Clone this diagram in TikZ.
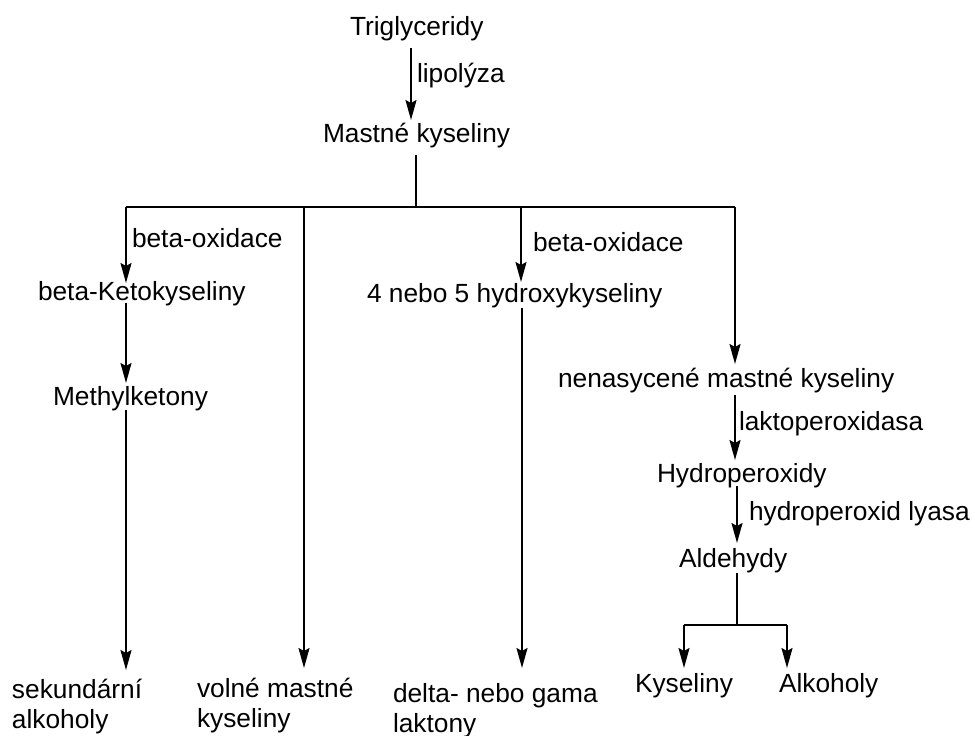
\documentclass[tikz,border=0pt]{standalone}
\usepackage{fontspec}
\setmainfont{Liberation Sans}
\usetikzlibrary{arrows.meta}
\tikzset{
  lbl/.style={anchor=base west, inner sep=0pt, outer sep=0pt, font=\fontsize{26.3}{30}\selectfont},
  ln/.style={line width=2pt},
  arr/.style={line width=2pt, -{Stealth[length=20pt,width=11pt,inset=3pt]}}
}
\newcommand{\twolines}[2]{\begin{tabular}[t]{@{}l@{}}#1\\#2\end{tabular}}
\begin{document}
\begin{tikzpicture}[x=1pt,y=-1pt]
\useasboundingbox (0,0) rectangle (975,736);
% text nodes
\node[lbl] (tri) at (350,35) {Triglyceridy};
\node[lbl] (lip) at (417,82) {lipolýza};
\node[lbl] (mk) at (323,142) {Mastné kyseliny};
\node[lbl] (bo1) at (132,247) {beta-oxidace};
\node[lbl] (bk) at (38,300) {beta-Ketokyseliny};
\node[lbl] (me) at (53,405) {Methylketony};
\node[lbl] (bo2) at (533,251) {beta-oxidace};
\node[lbl] (hk) at (367,302) {4 nebo 5 hydroxykyseliny};
\node[lbl] (nmk) at (558,387) {nenasycené mastné kyseliny};
\node[lbl] (lak) at (739,430) {laktoperoxidasa};
\node[lbl] (hyd) at (657,482) {Hydroperoxidy};
\node[lbl] (hl) at (749,520) {hydroperoxid lyasa};
\node[lbl] (ald) at (679,567) {Aldehydy};
\node[lbl] (kys) at (635,692) {Kyseliny};
\node[lbl] (alk) at (779,692) {Alkoholy};
\node[lbl] (sek) at (12,698) {\twolines{sekundární}{alkoholy}};
\node[lbl] (vol) at (197,697) {\twolines{volné mastné}{kyseliny}};
\node[lbl] (del) at (393,702) {\twolines{delta- nebo gama}{laktony}};
% coordinates
\coordinate (triB) at (411,48);
\coordinate (mkT) at (411,120);
\coordinate (mkB) at (416,155);
\coordinate (j0) at (416,207);
\coordinate (j1) at (126,207);
\coordinate (j2) at (304,207);
\coordinate (j3) at (521,207);
\coordinate (j4) at (735,207);
\coordinate (bkT) at (126,283);
\coordinate (bkB) at (126,303);
\coordinate (meT) at (126,383);
\coordinate (meB) at (126,410);
\coordinate (sekT) at (126,670);
\coordinate (volT) at (304,668);
\coordinate (hkT) at (521,282);
\coordinate (hkB) at (522,308);
\coordinate (delT) at (522,668);
\coordinate (nmkT) at (735,364);
\coordinate (nmkB) at (735,395);
\coordinate (hydT) at (735,460);
\coordinate (hydB) at (737,486);
\coordinate (aldT) at (737,543);
\coordinate (aldB) at (737,573);
\coordinate (j5) at (737,625);
\coordinate (j6) at (684,625);
\coordinate (j7) at (787,625);
\coordinate (kysT) at (684,668);
\coordinate (alkT) at (787,668);
% connectors
\draw[arr] (triB) -- (mkT);
\draw[ln] (mkB) -- (j0);
\draw[ln] (j1) -- (j4);
\draw[arr] (j1) -- (bkT);
\draw[arr] (bkB) -- (meT);
\draw[arr] (meB) -- (sekT);
\draw[arr] (j2) -- (volT);
\draw[arr] (j3) -- (hkT);
\draw[arr] (hkB) -- (delT);
\draw[arr] (j4) -- (nmkT);
\draw[arr] (nmkB) -- (hydT);
\draw[arr] (hydB) -- (aldT);
\draw[ln] (aldB) -- (j5);
\draw[ln] (j6) -- (j7);
\draw[arr] (j6) -- (kysT);
\draw[arr] (j7) -- (alkT);
\end{tikzpicture}
\end{document}
